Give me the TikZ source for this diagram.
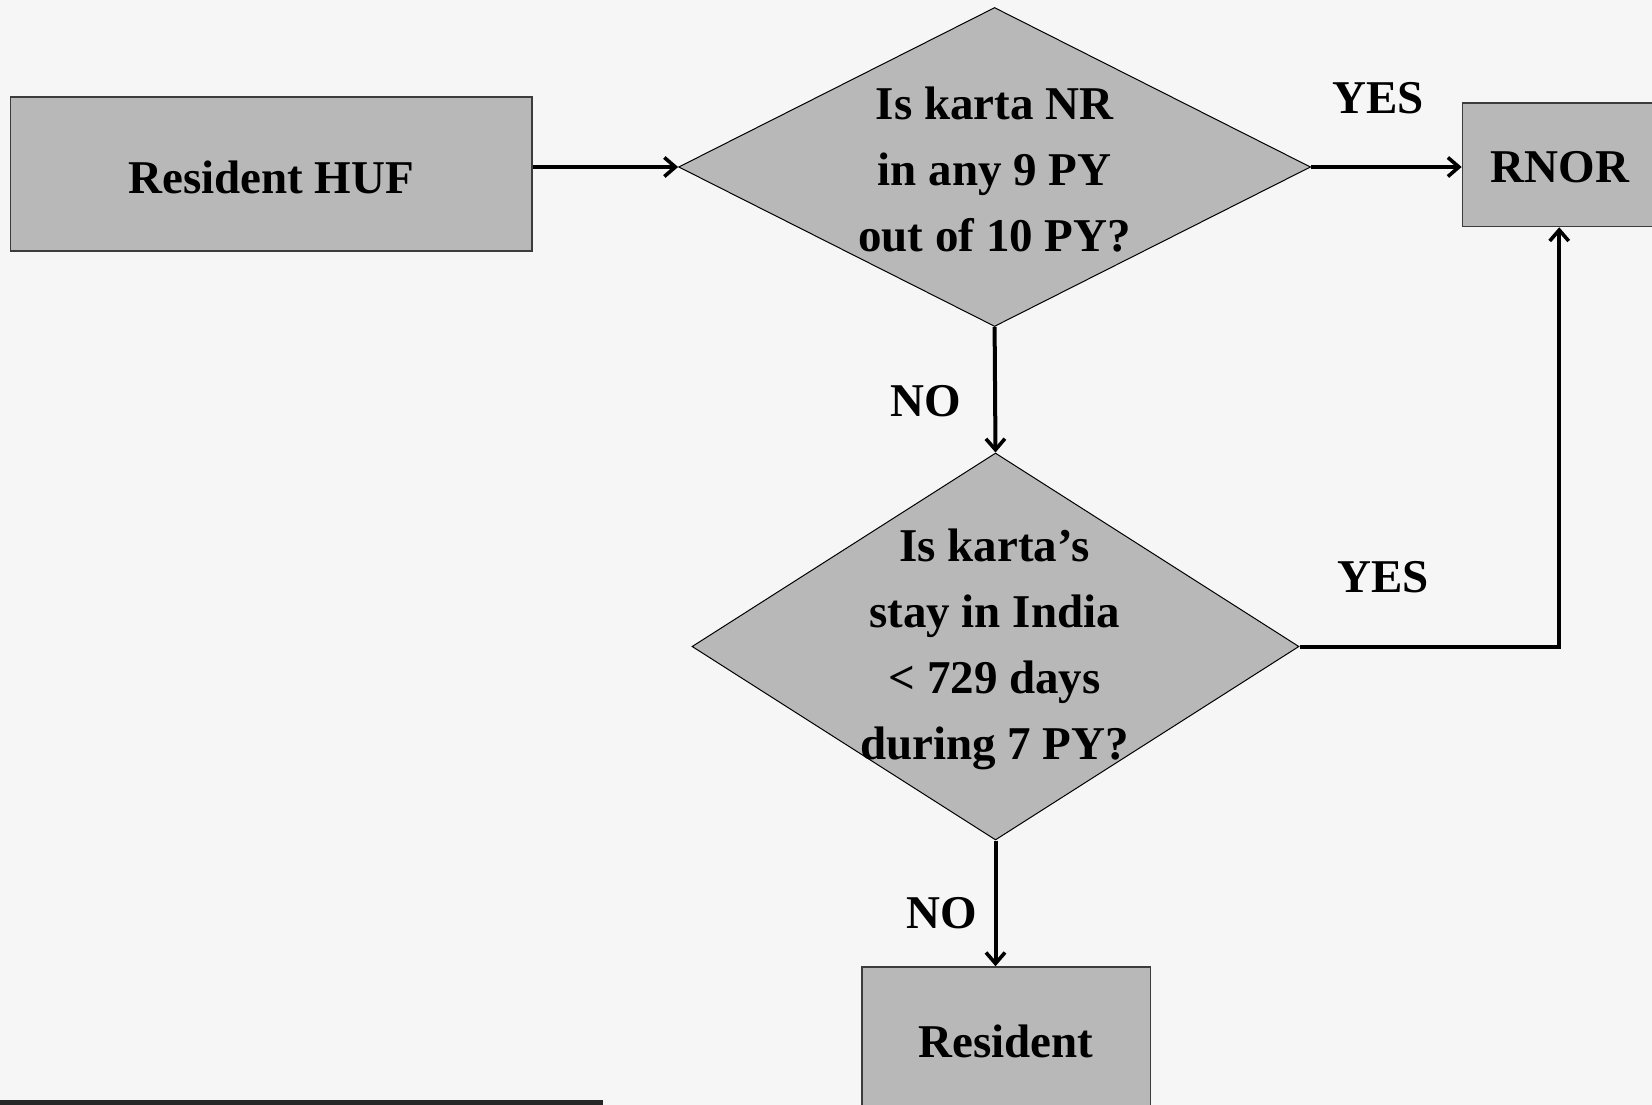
\documentclass[tikz,border=0pt]{standalone}
\usepackage{fontspec}
\setmainfont{Liberation Serif}
\usetikzlibrary{arrows.meta,shapes.geometric}
\definecolor{bgc}{RGB}{246,246,246}
\definecolor{boxc}{RGB}{184,184,184}
\definecolor{edgec}{RGB}{60,60,60}
\definecolor{barc}{RGB}{38,38,38}
\tikzset{
  rectbox/.style={draw=edgec, line width=1.5pt, fill=boxc, inner sep=0pt},
  dia/.style={diamond, draw=black, line width=1pt, fill=boxc, inner sep=0pt},
  txt/.style={font=\fontsize{47}{66}\selectfont\bfseries, align=center, inner sep=0pt},
  lbl/.style={font=\fontsize{47}{56}\selectfont\bfseries, inner sep=0pt},
  conn/.style={line width=4pt, line join=miter, -{Straight Barb[length=11pt,width=19pt,line width=3.6pt]}}
}
\begin{document}
\begin{tikzpicture}[x=1pt,y=-1pt]
\useasboundingbox (0,0) rectangle (1652,1105);
\fill[bgc] (0,0) rectangle (1652,1105);
\begin{scope}
\clip (0,0) rectangle (1652,1105);
% boxes
\node[rectbox, minimum width=521.5pt, minimum height=154pt] (huf) at (271.25,174) {};
\node[txt] (huft) at (271.25,177) {Resident HUF};
\node[rectbox, minimum width=193.6pt, minimum height=123.5pt] (rnor) at (1559.2,164.75) {};
\node[txt] (rnort) at (1560,167.5) {RNOR};
\node[rectbox, minimum width=288.5pt, minimum height=148pt] (res) at (1006.25,1041) {};
\node[txt] (rest) at (1006,1041) {Resident};
% diamonds
\node[dia, minimum width=632pt, minimum height=319pt] (d1) at (994.6,167) {};
\node[dia, minimum width=607pt, minimum height=387pt] (d2) at (995.5,646.5) {};
\node[txt] (d1t) at (994.6,170) {Is karta NR\\in any 9 PY\\out of 10 PY?};
\node[txt] (d2t) at (994.6,649) {Is karta’s\\stay in India\\< 729 days\\during 7 PY?};
\end{scope}
% bottom bar
\fill[barc] (0,1100) rectangle (603,1105);
% connectors
\coordinate (hufout) at (huf.east |- d1.west);
\draw[conn] (hufout) -- (d1.west);
\draw[conn] (d1.east) -- (d1.east -| rnor.west);
\draw[conn] (d1.south) -- (d2.north);
\coordinate (corner) at (rnor.south |- d2.east);
\draw[conn] (d2.east) -- (corner) -- (rnor.south);
\draw[conn] (d2.south) -- (d2.south |- res.north);
% labels
\node[lbl] (yes1) at (1378,98) {YES};
\node[lbl] (no1) at (926,401) {NO};
\node[lbl] (yes2) at (1383,577) {YES};
\node[lbl] (no2) at (942,913) {NO};
\end{tikzpicture}
\end{document}
